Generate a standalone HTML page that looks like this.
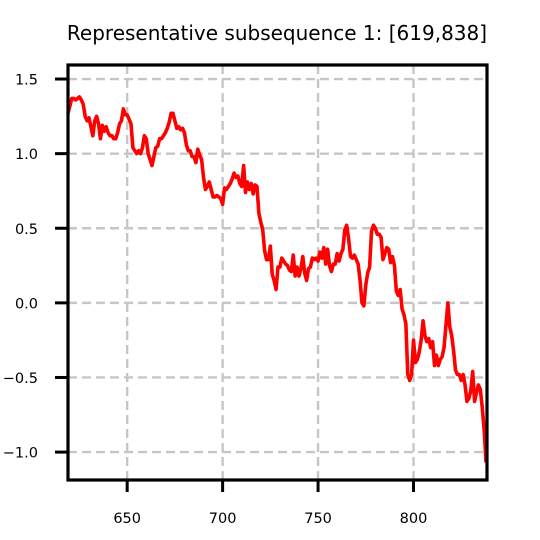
<!DOCTYPE html>
<html><head><meta charset="utf-8"><style>body{margin:0;background:#fff}svg{display:block;font-family:"DejaVu Sans","Liberation Sans",sans-serif}</style></head>
<body>
<svg id="chart" width="540" height="540" viewBox="0 0 540 540" xmlns="http://www.w3.org/2000/svg">
<rect width="540" height="540" fill="#fff"/>
<text x="277" y="40" text-anchor="middle" font-size="20">Representative subsequence 1: [619,838]</text>
<g id="grid"></g><g id="series"></g><g id="axes"></g>
</svg>
<script>
const xStart = 619;
const yValues = [1.27,1.32,1.37,1.37,1.36,1.37,1.38,1.36,1.33,1.25,1.22,1.24,1.18,1.12,1.22,1.25,1.20,1.10,1.19,1.15,1.18,1.14,1.12,1.12,1.10,1.10,1.14,1.20,1.22,1.30,1.26,1.26,1.23,1.20,1.04,1.02,1.00,1.02,1.00,1.04,1.12,1.10,1.00,0.96,0.92,0.98,1.04,1.05,1.10,1.10,1.12,1.14,1.17,1.21,1.27,1.27,1.22,1.17,1.18,1.16,1.17,1.14,1.06,1.02,1.02,0.98,0.98,0.94,1.03,0.99,0.96,0.84,0.76,0.78,0.81,0.76,0.71,0.71,0.72,0.71,0.70,0.66,0.77,0.76,0.78,0.80,0.83,0.87,0.84,0.85,0.80,0.78,0.92,0.74,0.81,0.76,0.80,0.73,0.79,0.78,0.60,0.54,0.49,0.35,0.29,0.29,0.38,0.19,0.15,0.09,0.24,0.24,0.30,0.28,0.26,0.25,0.22,0.21,0.32,0.18,0.24,0.18,0.23,0.31,0.20,0.15,0.23,0.24,0.30,0.29,0.30,0.28,0.34,0.30,0.37,0.26,0.36,0.25,0.21,0.26,0.26,0.33,0.28,0.33,0.36,0.49,0.52,0.43,0.31,0.30,0.32,0.29,0.26,0.15,0.00,-0.02,0.12,0.20,0.24,0.48,0.52,0.50,0.46,0.46,0.44,0.29,0.33,0.37,0.36,0.27,0.31,0.25,0.08,0.05,0.09,-0.04,-0.08,-0.14,-0.48,-0.52,-0.48,-0.25,-0.40,-0.38,-0.33,-0.25,-0.12,-0.22,-0.26,-0.24,-0.30,-0.26,-0.42,-0.35,-0.42,-0.38,-0.36,-0.30,-0.15,0.00,-0.16,-0.22,-0.32,-0.45,-0.48,-0.48,-0.52,-0.48,-0.55,-0.66,-0.64,-0.59,-0.46,-0.66,-0.60,-0.55,-0.58,-0.70,-0.85,-1.07];
const xTicks = [650,700,750,800];
const xTickLabels = ["650","700","750","800"];
const yTicks = [1.5,1.0,0.5,0.0,-0.5,-1.0];
const yTickLabels = ["1.5","1.0","0.5","0.0","\u22120.5","\u22121.0"];

const L=68,R=487,T=65,B=480;
const xMin=619,xMax=838.5,yMin=-1.187,yMax=1.594;
const xs=v=>L+(v-xMin)/(xMax-xMin)*(R-L);
const ys=v=>B-(v-yMin)/(yMax-yMin)*(B-T);
const NS='http://www.w3.org/2000/svg';
function mk(t,a,p){const e=document.createElementNS(NS,t);for(const k in a)e.setAttribute(k,a[k]);p.appendChild(e);return e;}
const grid=document.getElementById('grid'),series=document.getElementById('series'),axes=document.getElementById('axes');
xTicks.forEach((v,i)=>{
  const g=mk('line',{x1:xs(v),x2:xs(v),y1:T,y2:B,stroke:'#c6c6c6','stroke-width':2.4,'stroke-dasharray':'9,5'},grid);
  
  
  const t=mk('line',{x1:xs(v),x2:xs(v),y1:B,y2:B+12,stroke:'#000','stroke-width':3},axes);
  
  
  const l=mk('text',{x:xs(v),y:523,'text-anchor':'middle','font-size':14.5},axes);
  l.textContent=xTickLabels[i];
  
  
});
yTicks.forEach((v,i)=>{
  const g=mk('line',{x1:L,x2:R,y1:ys(v),y2:ys(v),stroke:'#c6c6c6','stroke-width':2.4,'stroke-dasharray':'9,5'},grid);
  
  
  const t=mk('line',{x1:L-13,x2:L,y1:ys(v),y2:ys(v),stroke:'#000','stroke-width':3},axes);
  
  
  const l=mk('text',{x:38,y:ys(v)+5.5,'text-anchor':'end','font-size':14.5},axes);
  l.textContent=yTickLabels[i];
  
  
});
const pts=yValues.map((v,i)=>xs(xStart+i).toFixed(2)+','+ys(v).toFixed(2)).join(' ');
const line=mk('polyline',{points:pts,fill:'none',stroke:'#ff0000','stroke-width':3.6,'stroke-linejoin':'round'},series);


const fr=mk('rect',{x:L,y:T,width:R-L,height:B-T,fill:'none',stroke:'#000','stroke-width':3.2},axes);


</script>
</body></html>
